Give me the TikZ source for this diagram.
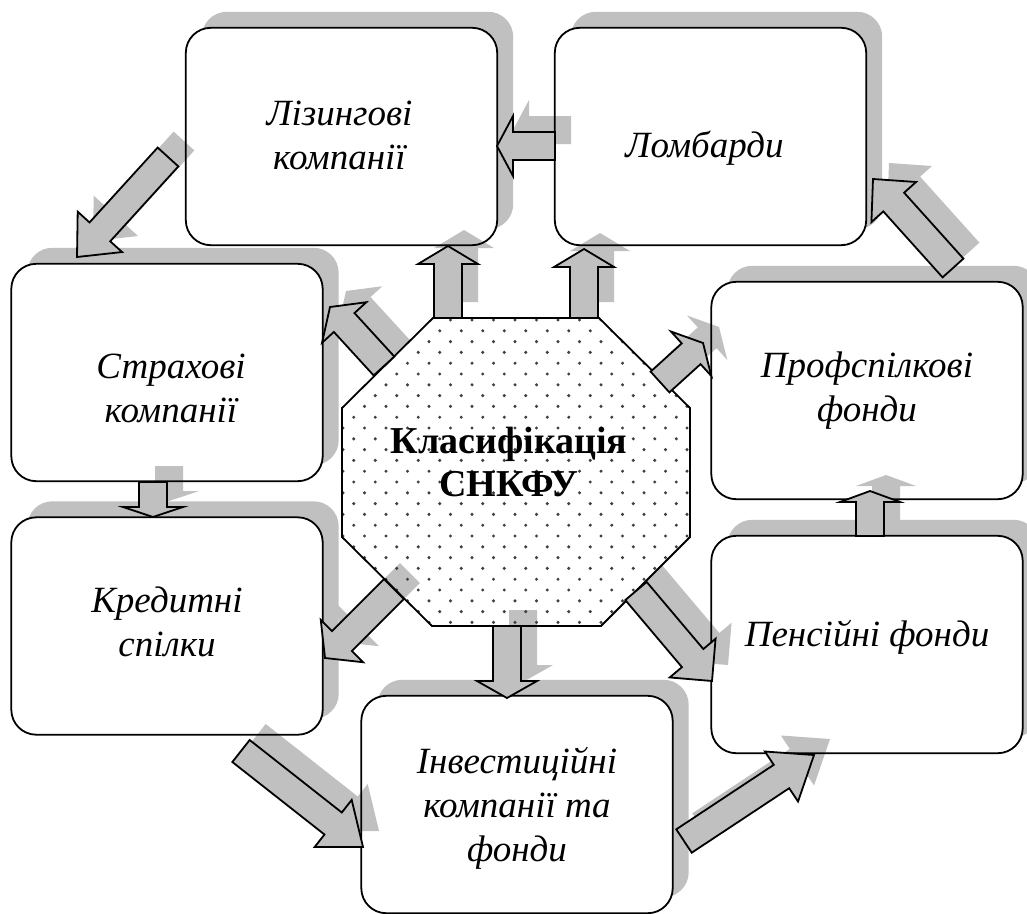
\documentclass[tikz,border=0pt]{standalone}
\usepackage{fontspec}
\setmainfont{Liberation Serif}
\usetikzlibrary{calc}
\definecolor{shadowgray}{RGB}{192,192,192}
\tikzset{
  box/.style={rectangle, minimum width=311pt, minimum height=217pt, inner sep=0pt},
  boxline/.style={draw=black, line width=1.8pt, rounded corners=25pt},
  lbl/.style={align=center, inner sep=0pt, font=\fontsize{37}{44}\selectfont\itshape},
  title/.style={align=center, inner sep=0pt, font=\fontsize{38}{43}\selectfont\bfseries},
  arrbody/.style={fill=shadowgray, draw=black, line width=1.8pt, line join=miter},
  arrshadow/.style={fill=shadowgray},
}
% block arrow: style, tail, tip, head length
\newcommand{\blkarrow}[4]{%
  \coordinate (ba-h) at ($(#3)!#4!(#2)$);
  \path[#1] ($(#2)!14pt!90:(#3)$) -- ($(ba-h)!14pt!90:(#3)$) -- ($(ba-h)!30pt!90:(#3)$)
    -- (#3) -- ($(ba-h)!30pt!-90:(#3)$) -- ($(ba-h)!14pt!-90:(#3)$) -- ($(#2)!14pt!-90:(#3)$) -- cycle;}
\begin{document}
\begin{tikzpicture}[x=1pt, y=-1pt]
\useasboundingbox (0,0) rectangle (1027,913);

% boxes
\node[box] (lease)   at (341.5,136.5) {};
\node[box] (pawn)    at (710.5,136.5) {};
\node[box] (ins)     at (167,372.5) {};
\node[box] (credit)  at (167,626) {};
\node[box] (invest)  at (517,804.5) {};
\node[box] (pension) at (867,644.5) {};
\node[box] (union)   at (867,390.5) {};

% octagon corners
\coordinate (o1) at (433,318);
\coordinate (o2) at (599,318);
\coordinate (o3) at (690,408);
\coordinate (o4) at (690,537);
\coordinate (o5) at (601,626);
\coordinate (o6) at (432,626);
\coordinate (o7) at (342,537);
\coordinate (o8) at (342,408);
\coordinate (cls) at (509,462);

% arrow end points
\coordinate (a1-s) at (555,146);  \coordinate (a1-e) at (497,146);
\coordinate (a2-s) at (448,318);  \coordinate (a2-e) at (448,246);
\coordinate (a3-s) at (584,318);  \coordinate (a3-e) at (584,249);
\coordinate (a4-s) at (384,366);  \coordinate (a4-e) at (330,307);
\coordinate (a5-s) at (660,382);  \coordinate (a5-e) at (703,343);
\coordinate (a6-s) at (394,589);  \coordinate (a6-e) at (325,658);
\coordinate (a7-s) at (507,626);  \coordinate (a7-e) at (507,698);
\coordinate (a8-s) at (636,591);  \coordinate (a8-e) at (712,681);
\coordinate (a9-s) at (241,751);  \coordinate (a9-e) at (363,847);
\coordinate (a10-s) at (684,841); \coordinate (a10-e) at (814,755);
\coordinate (a11-s) at (870,536); \coordinate (a11-e) at (870,491);
\coordinate (a12-s) at (953,268); \coordinate (a12-e) at (873,179);
\coordinate (a13-s) at (153,482); \coordinate (a13-e) at (153,517);
\coordinate (a14-s) at (168,157); \coordinate (a14-e) at (77,257);

% box shadows and white fills
\foreach \b in {lease,pawn,ins,credit,invest,pension,union}
  \fill[shadowgray, rounded corners=25pt] ($(\b.south west)+(16,-16)$) rectangle ($(\b.north east)+(16,-16)$);
\foreach \b in {lease,pawn,ins,credit,invest,pension,union}
  \fill[white, rounded corners=25pt] (\b.south west) rectangle (\b.north east);
\fill[white] (o1) -- (o2) -- (o3) -- (o4) -- (o5) -- (o6) -- (o7) -- (o8) -- cycle;

% arrow shadows
\begin{scope}[transform canvas={xshift=16pt, yshift=16pt}]
  \foreach \a/\h in {a1/16pt,a2/18pt,a3/18pt,a4/21pt,a5/16pt,a6/24pt,a7/17pt,a8/30pt,
                     a9/38pt,a10/39pt,a11/11pt,a12/31pt,a13/10pt,a14/34pt}
    {\blkarrow{arrshadow}{\a-s}{\a-e}{\h}}
\end{scope}

% dotted octagon
\begin{scope}
  \clip (o1) -- (o2) -- (o3) -- (o4) -- (o5) -- (o6) -- (o7) -- (o8) -- cycle;
  \foreach \i in {0,...,29}
    \foreach \j in {0,...,17}
      \fill[black!75] ({343+21.5*\j+10.75*mod(\i,2)}, {320+10.8*\i}) circle[radius=1.7pt];
\end{scope}
\draw[line width=1.8pt, line join=miter] (o1) -- (o2) -- (o3) -- (o4) -- (o5) -- (o6) -- (o7) -- (o8) -- cycle;

% box outlines
\foreach \b in {lease,pawn,ins,credit,invest,pension,union}
  \draw[boxline] (\b.south west) rectangle (\b.north east);

% arrows
\foreach \a/\h in {a1/16pt,a2/18pt,a3/18pt,a4/21pt,a5/16pt,a6/24pt,a7/17pt,a8/30pt,
                   a9/38pt,a10/39pt,a11/11pt,a12/31pt,a13/10pt,a14/34pt}
  {\blkarrow{arrbody}{\a-s}{\a-e}{\h}}

% labels
\node[lbl] (lease-t)   at ($(lease)+(-2,-1)$)   {Лізингові\\компанії};
\node[lbl] (pawn-t)    at ($(pawn)+(-6,12)$)    {Ломбарди};
\node[lbl] (ins-t)     at ($(ins)+(4,16)$)      {Страхові\\компанії};
\node[lbl] (credit-t)  at ($(credit)+(0,-4)$)   {Кредитні\\спілки};
\node[lbl] (invest-t)  at ($(invest)+(0,4)$)    {Інвестиційні\\компанії та\\фонди};
\node[lbl] (pension-t) at ($(pension)+(0,-7)$)  {Пенсійні фонди};
\node[lbl] (union-t)   at ($(union)+(0,0)$)     {Профспілкові\\фонди};
\node[title] (cls-t) at (cls) {Класифікація\\СНКФУ};
\end{tikzpicture}
\end{document}
